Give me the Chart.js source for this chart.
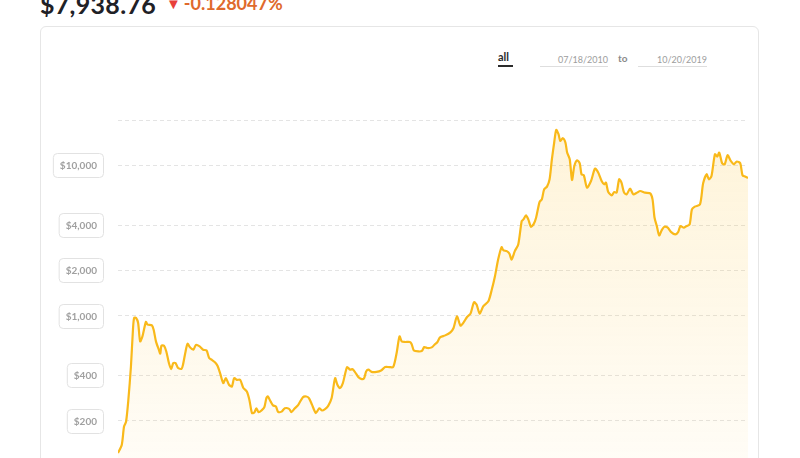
<!DOCTYPE html>
<html>
<head>
<meta charset="utf-8">
<script src="https://cdn.jsdelivr.net/npm/chart.js@4/dist/chart.umd.min.js"></script>
<style>
    html, body { margin: 0; padding: 0; background: #fff; overflow: hidden; }
    body { width: 800px; height: 458px; position: relative; font-family: Lato, "Open Sans", sans-serif; }
    .price { position: absolute; left: 40px; top: -9px; font-size: 25px; font-weight: 700; color: #1f2126; line-height: 26px; letter-spacing: 0.3px; }
    .change { position: absolute; left: 166px; top: -8px; font-size: 18px; font-weight: 700; color: #df6a2d; line-height: 22px; }
    .change .arrow { color: #e8403a; font-size: 15px; margin-right: 3px; position: relative; top: -1px; }
    .card { position: absolute; left: 40px; top: 26px; width: 719px; height: 480px; border: 1px solid #e6e6e6; border-radius: 6px; box-sizing: border-box; }
    .all { position: absolute; left: 498px; top: 50px; font-size: 11px; font-weight: 700; color: #2b2b2b; }
    .all-bar { position: absolute; left: 498px; top: 65px; width: 15px; height: 2px; background: #2b2b2b; }
    .date { position: absolute; top: 53px; height: 13px; border-bottom: 1px solid #dedede; text-align: right; font-size: 9px; color: #9d9d9d; line-height: 13px; }
    .to { position: absolute; left: 618px; top: 52px; font-size: 10px; font-weight: 700; color: #8a8a8a; }
    #price-chart { position: absolute; left: 0; top: 0; }
</style>
</head>
<body>
<div class="price">$7,938.76</div>
<div class="change"><span class="arrow">&#9660;</span>-0.128047%</div>
<div class="card"></div>
<div class="all">all</div>
<div class="all-bar"></div>
<div class="date" style="left:540px;width:68px;">07/18/2010</div>
<div class="to">to</div>
<div class="date" style="left:638px;width:69px;">10/20/2019</div>
<canvas id="price-chart" width="800" height="520" style="width:800px;height:520px;"></canvas>

<script>
// Weekly-ish closing prices
const dates = [
    '2013-10-20', '2013-11-02', '2013-11-10', '2013-11-17', '2013-11-25', '2013-12-04', '2013-12-11', '2013-12-15',
    '2013-12-22', '2013-12-29', '2014-01-05', '2014-01-13', '2014-01-25', '2014-01-31', '2014-02-15', '2014-02-21',
    '2014-03-01', '2014-03-11', '2014-03-16', '2014-03-20', '2014-03-29', '2014-04-06', '2014-04-15', '2014-04-23',
    '2014-04-30', '2014-05-08', '2014-05-17', '2014-05-29', '2014-06-03', '2014-06-12', '2014-06-19', '2014-06-27',
    '2014-07-09', '2014-07-18', '2014-07-31', '2014-08-12', '2014-08-24', '2014-09-02', '2014-09-11', '2014-09-23',
    '2014-10-01', '2014-10-10', '2014-10-21', '2014-10-30', '2014-11-10', '2014-11-20', '2014-11-28', '2014-12-07',
    '2014-12-19', '2014-12-30', '2015-01-11', '2015-01-20', '2015-01-29', '2015-02-06', '2015-02-13', '2015-02-21',
    '2015-03-05', '2015-03-13', '2015-03-20', '2015-03-25', '2015-04-04', '2015-04-12', '2015-04-22', '2015-04-30',
    '2015-05-12', '2015-05-23', '2015-06-07', '2015-06-15', '2015-06-27', '2015-07-09', '2015-07-25', '2015-08-06',
    '2015-08-15', '2015-08-26', '2015-09-08', '2015-09-20', '2015-09-29', '2015-10-10', '2015-10-21', '2015-11-02',
    '2015-11-14', '2015-11-22', '2015-12-01', '2015-12-11', '2015-12-19', '2015-12-26', '2016-01-05', '2016-01-14',
    '2016-01-26', '2016-02-03', '2016-02-15', '2016-02-23', '2016-03-01', '2016-03-09', '2016-03-20', '2016-04-06',
    '2016-04-22', '2016-05-06', '2016-05-20', '2016-06-03', '2016-06-15', '2016-06-25', '2016-07-03', '2016-07-14',
    '2016-07-31', '2016-08-06', '2016-08-14', '2016-08-30', '2016-09-11', '2016-09-19', '2016-09-30', '2016-10-15',
    '2016-10-27', '2016-11-04', '2016-11-13', '2016-12-01', '2016-12-19', '2016-12-30', '2017-01-11', '2017-01-23',
    '2017-02-03', '2017-02-15', '2017-02-27', '2017-03-11', '2017-03-20', '2017-03-31', '2017-04-12', '2017-04-30',
    '2017-05-12', '2017-05-23', '2017-06-03', '2017-06-15', '2017-06-21', '2017-07-03', '2017-07-12', '2017-07-20',
    '2017-07-31', '2017-08-12', '2017-08-24', '2017-08-30', '2017-09-08', '2017-09-16', '2017-09-25', '2017-10-04',
    '2017-10-13', '2017-10-25', '2017-11-02', '2017-11-10', '2017-11-20', '2017-11-29', '2017-12-07', '2017-12-15',
    '2017-12-22', '2017-12-30', '2018-01-05', '2018-01-14', '2018-01-23', '2018-01-29', '2018-02-07', '2018-02-15',
    '2018-02-23', '2018-03-05', '2018-03-14', '2018-03-20', '2018-03-28', '2018-04-08', '2018-04-22', '2018-05-06',
    '2018-05-17', '2018-05-29', '2018-06-07', '2018-06-13', '2018-06-21', '2018-07-03', '2018-07-12', '2018-07-20',
    '2018-07-29', '2018-08-06', '2018-08-15', '2018-08-24', '2018-09-05', '2018-09-16', '2018-09-29', '2018-10-10',
    '2018-10-27', '2018-11-14', '2018-11-22', '2018-11-29', '2018-12-07', '2018-12-15', '2018-12-24', '2019-01-02',
    '2019-01-14', '2019-01-26', '2019-02-09', '2019-02-19', '2019-02-27', '2019-03-11', '2019-03-20', '2019-03-31',
    '2019-04-08', '2019-04-18', '2019-05-06', '2019-05-17', '2019-05-29', '2019-06-06', '2019-06-15', '2019-06-27',
    '2019-07-05', '2019-07-12', '2019-07-22', '2019-07-31', '2019-08-10', '2019-08-21', '2019-09-01', '2019-09-11',
    '2019-09-23', '2019-10-01', '2019-10-10', '2019-10-20'
];

const prices = [
    122, 138, 183, 197, 275, 459, 806, 965,
    965, 894, 674, 728, 908, 871, 862, 806,
    674, 593, 558, 631, 631, 578, 484, 441,
    484, 484, 448, 443, 471, 578, 650, 618,
    593, 638, 624, 593, 587, 522, 509, 488,
    464, 415, 356, 384, 347, 338, 384, 374,
    374, 330, 313, 275, 225, 227, 242, 228,
    236, 246, 283, 290, 268, 253, 249, 229,
    230, 242, 240, 228, 242, 255, 287, 290,
    283, 255, 225, 242, 234, 239, 251, 283,
    384, 347, 330, 356, 411, 455, 437, 441,
    411, 390, 378, 384, 425, 437, 423, 423,
    432, 455, 455, 455, 564, 728, 674, 668,
    668, 648, 587, 578, 582, 618, 609, 615,
    648, 668, 717, 739, 774, 828, 989, 858,
    902, 980, 1031, 1227, 1184, 1031, 1153, 1245,
    1491, 1828, 2362, 2853, 2725, 2684, 2590, 2362,
    2684, 2974, 4253, 4365, 4642, 4365, 3902, 4044,
    4480, 5692, 5933, 6918, 7211, 8065, 10965, 14170,
    17190, 16100, 14520, 15140, 14170, 12150, 10965, 7980,
    9890, 10800, 10260, 8710, 8577, 7101, 7858, 9506,
    8940, 7858, 7468, 7667, 6637, 6310, 6637, 6577,
    8065, 7667, 6577, 6407, 6993, 6407, 6577, 6741,
    6577, 6505, 5933, 4480, 3938, 3415, 3704, 3902,
    3842, 3592, 3467, 3592, 3938, 3842, 3938, 4044,
    5089, 5304, 5495, 7586, 8710, 8065, 8486, 11840,
    11430, 12150, 10310, 10150, 11660, 10680, 10150, 10590,
    10310, 8577, 8408, 8228
];

// Gridlines; only the middle ones carry a label
const gridValues = [100, 200, 400, 1000, 2000, 4000, 10000, 20000];
const labeledValues = [200, 400, 1000, 2000, 4000, 10000];

const rangeStart = '2013-10-20';
const rangeEnd = '2019-10-20';

function formatPrice(v) {
    return '$' + v.toLocaleString('en-US');
}

// Draws the rounded "pill" tick labels to the left of the plot
const pillLabels = {
    id: 'pillLabels',
    afterDraw(chart) {
        const ctx = chart.ctx;
        const yScale = chart.scales.y;
        const right = 103;
        ctx.save();
        ctx.font = '700 10px Lato, sans-serif';
        ctx.textBaseline = 'middle';
        ctx.textAlign = 'center';
        labeledValues.forEach(v => {
            const y = Math.round(yScale.getPixelForValue(v));
            const text = formatPrice(v);
            const w = ctx.measureText(text).width + 13;
            const h = 24;
            const x = right - w;
            ctx.beginPath();
            ctx.roundRect(x + 0.5, y - h / 2 + 0.5, w, h, 4);
            ctx.fillStyle = '#fff';
            ctx.fill();
            ctx.strokeStyle = '#e2e2e2';
            ctx.lineWidth = 1;
            ctx.stroke();
            ctx.fillStyle = '#a0a0a0';
            ctx.fillText(text, x + w / 2 + 0.5, y + 1);
        });
        ctx.restore();
    }
};

function initPriceChart() {
    const el = document.getElementById('price-chart');
    if (!el) return;

    const points = dates.map((d, i) => ({ x: Date.parse(d), y: prices[i] }));

    new Chart(el, {
        type: 'line',
        data: {
            datasets: [{
                data: points,
                borderColor: '#f9b91a',
                borderWidth: 2.2,
                pointRadius: 0,
                tension: 0.25,
                fill: 'start',
                backgroundColor: (context) => {
                    const area = context.chart.chartArea;
                    if (!area) return 'rgba(252, 196, 50, 0.1)';
                    const g = context.chart.ctx.createLinearGradient(0, area.top, 0, area.bottom);
                    g.addColorStop(0, 'rgba(252, 192, 40, 0.18)');
                    g.addColorStop(1, 'rgba(252, 192, 40, 0.04)');
                    return g;
                }
            }]
        },
        options: {
            responsive: false,
            animation: false,
            layout: {
                padding: { left: 118, right: 52, top: 120, bottom: 54 }
            },
            plugins: {
                legend: { display: false },
                tooltip: { enabled: false }
            },
            scales: {
                x: {
                    type: 'linear',
                    display: false,
                    min: Date.parse(rangeStart),
                    max: Date.parse(rangeEnd)
                },
                y: {
                    type: 'logarithmic',
                    min: 100,
                    max: 20000,
                    afterBuildTicks: (scale) => {
                        scale.ticks = gridValues.map(v => ({ value: v }));
                    },
                    ticks: { display: false },
                    grid: {
                        color: '#e4e4e4',
                        lineWidth: 1,
                        drawTicks: false
                    },
                    border: { display: false, dash: [4, 3] }
                }
            }
        },
        plugins: [pillLabels]
    });
}

document.addEventListener('DOMContentLoaded', () => {
    initPriceChart();
});
</script>
</body>
</html>
